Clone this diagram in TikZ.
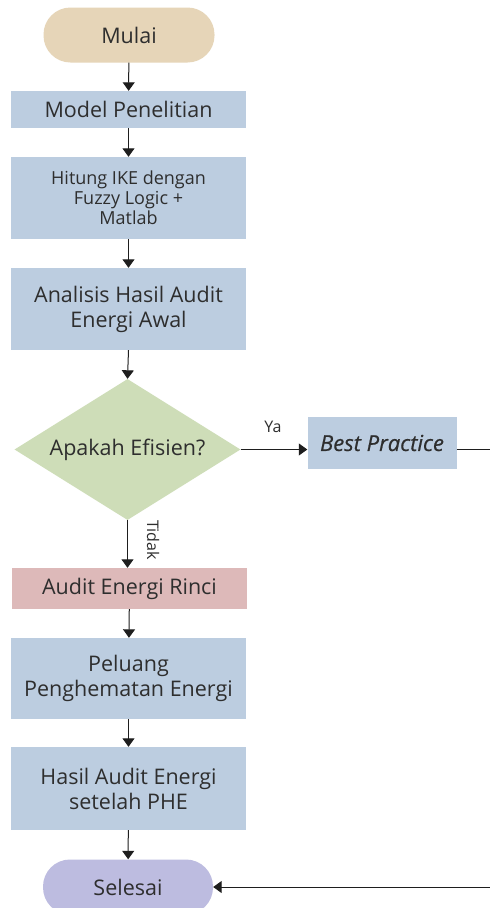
\documentclass[tikz,border=0pt]{standalone}
\usepackage{fontspec}
\setmainfont{Open Sans}
\usetikzlibrary{shapes.geometric,arrows.meta}
\definecolor{tanc}{HTML}{E6D5B8}
\definecolor{bluec}{HTML}{BCCDE0}
\definecolor{greenc}{HTML}{CEDDB8}
\definecolor{pinkc}{HTML}{DDB9B9}
\definecolor{lavc}{HTML}{BDBCE0}
\definecolor{txt}{HTML}{2E2E2E}
\definecolor{linec}{HTML}{1E1E1E}
\begin{document}
\begin{tikzpicture}[x=1pt,y=-1pt,
  box/.style={rectangle,fill=bluec,minimum width=235pt,inner sep=0pt,text=txt,align=center,font=\fontsize{21.5}{25}\selectfont},
  term/.style={rectangle,rounded corners=27pt,minimum width=171pt,minimum height=55pt,inner sep=0pt,text=txt,font=\fontsize{21.5}{25}\selectfont},
  dec/.style={diamond,aspect=1.6,fill=greenc,minimum width=226pt,minimum height=141pt,inner sep=0pt,text=txt,font=\fontsize{21.5}{25}\selectfont},
  lbl/.style={text=txt,inner sep=0pt,font=\fontsize{16}{18}\selectfont},
  arr/.style={draw=linec,line width=1pt,-{Triangle[width=12pt,length=8.5pt]}},
  ln/.style={draw=linec,line width=1pt}]
\useasboundingbox (0,0) rectangle (490,908);
\fill[white] (0,0) rectangle (490,908);
\node[term,fill=tanc] (mulai) at (129,35) {Mulai};
\node[box,minimum height=37pt] (model) at (128.5,109.5) {Model Penelitian};
\node[box,minimum height=82pt,font=\fontsize{18}{20}\selectfont] (hitung) at (128.5,198) {Hitung IKE dengan\\Fuzzy Logic +\\Matlab};
\node[box,minimum height=82pt] (analisis) at (128.5,309) {Analisis Hasil Audit\\Energi Awal};
\node[dec] (dia) at (127.5,449.5) {Apakah Efisien?};
\node[box,minimum width=149pt,minimum height=52pt,font=\fontsize{22}{26}\itshape\selectfont\addfontfeature{FakeBold=0.6}] (bp) at (382,443) {Best Practice};
\node[box,fill=pinkc,minimum height=41pt] (audit) at (129.5,588.5) {Audit Energi Rinci};
\node[box,minimum height=81pt] (peluang) at (128.5,678.5) {Peluang\\Penghematan Energi};
\node[box,minimum height=83pt] (hasil) at (128.5,788.5) {Hasil Audit Energi\\setelah PHE};
\node[term,fill=lavc,minimum width=170pt] (selesai) at (128,887) {Selesai};
\coordinate (bpout) at (490,449.5);
\coordinate (selin) at (490,887);
\draw[arr] (mulai) -- (model);
\draw[arr] (model) -- (hitung);
\draw[arr] (hitung) -- (analisis);
\draw[arr] (analisis.south) -- (dia.north);
\draw[arr] (dia.east) -- (dia.east -| bp.west);
\node[lbl] (ya) at (273,427) {Ya};
\draw[ln] (dia.east -| bp.east) -- (bpout);
\draw[arr] (dia.south) -- (dia.south |- audit.north);
\node[lbl,rotate=-90] (tidak) at (153,540) {Tidak};
\draw[arr] (audit) -- (peluang);
\draw[arr] (peluang) -- (hasil);
\draw[arr] (hasil) -- (selesai);
\draw[arr] (selin) -- (selesai.east);
\end{tikzpicture}
\end{document}
